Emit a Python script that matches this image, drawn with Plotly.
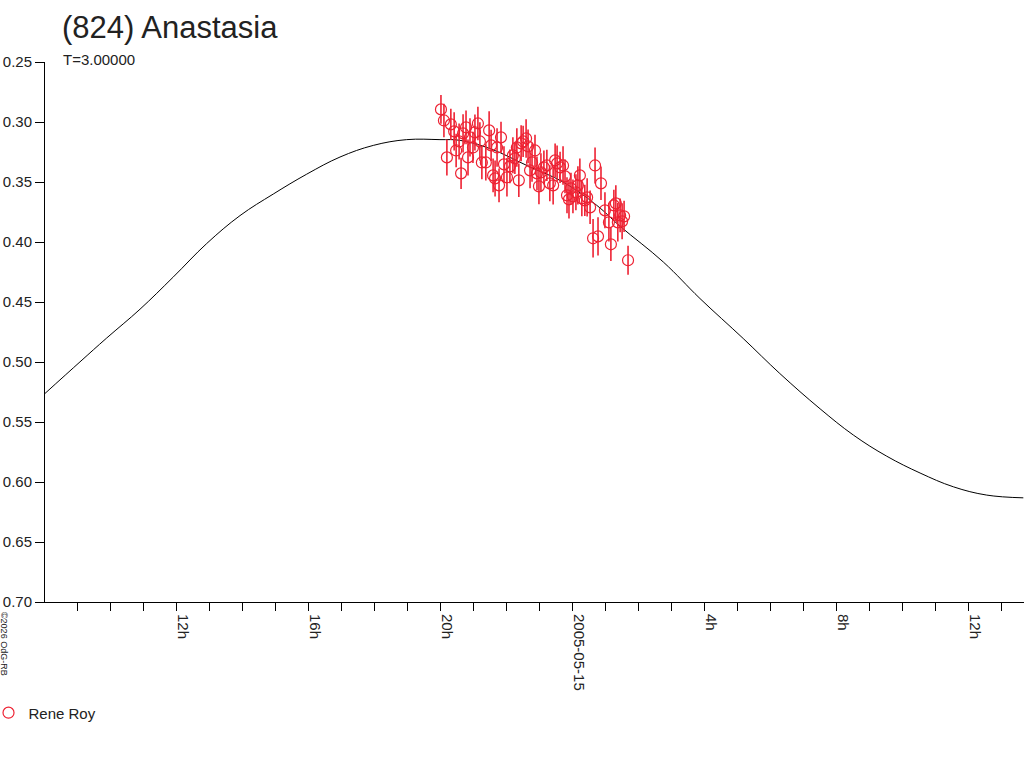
import plotly.graph_objects as go

# Model lightcurve (hours since 2005-05-14 00:00, magnitude)
curve_hours = [8.02, 9.08, 9.89, 10.90, 11.91, 12.92, 13.93, 14.94, 15.95, 16.96,
               17.97, 18.98, 19.99, 20.60, 21.51, 22.72, 23.72, 24.74, 25.45, 26.76,
               27.87, 29.18, 30.29, 31.51, 32.52, 33.53, 34.54, 35.55, 36.56, 37.67]
curve_mag = [0.5262, 0.4999, 0.4800, 0.4560, 0.4291, 0.4013, 0.3780, 0.3600, 0.3435, 0.3292,
             0.3195, 0.3147, 0.3147, 0.3153, 0.3222, 0.3375, 0.3500, 0.3694, 0.3869, 0.4167,
             0.4471, 0.4804, 0.5096, 0.5390, 0.5609, 0.5785, 0.5925, 0.6040, 0.6109, 0.6132]

# Observations (Rene Roy)
obs_hours = [20.02, 20.11, 20.20, 20.32, 20.42, 20.48, 20.57, 20.63, 20.69, 20.78,
             20.84, 20.90, 20.99, 21.05, 21.14, 21.20, 21.26, 21.38, 21.48, 21.54,
             21.60, 21.66, 21.72, 21.78, 21.84, 21.93, 22.02, 22.11, 22.20, 22.26,
             22.32, 22.38, 22.45, 22.51, 22.60, 22.66, 22.72, 22.78, 22.87, 22.93,
             22.99, 23.05, 23.14, 23.23, 23.32, 23.42, 23.48, 23.54, 23.63, 23.72,
             23.78, 23.84, 23.90, 23.96, 24.02, 24.11, 24.17, 24.23, 24.29, 24.38,
             24.45, 24.54, 24.63, 24.69, 24.78, 24.87, 24.99, 25.11, 25.17, 25.26,
             25.32, 25.38, 25.45, 25.51, 25.57, 25.69]
obs_mag = [0.2895, 0.2987, 0.3295, 0.3020, 0.3078, 0.3237, 0.3162, 0.3428, 0.3095, 0.3045,
           0.3295, 0.3128, 0.3212, 0.3087, 0.3012, 0.3162, 0.3337, 0.3337, 0.3070, 0.3195,
           0.3445, 0.3470, 0.3212, 0.3528, 0.3128, 0.3353, 0.3461, 0.3370, 0.3278, 0.3303,
           0.3212, 0.3486, 0.3178, 0.3162, 0.3137, 0.3203, 0.3403, 0.3337, 0.3237, 0.3428,
           0.3536, 0.3420, 0.3378, 0.3362, 0.3511, 0.3528, 0.3320, 0.3345, 0.3378, 0.3362,
           0.3453, 0.3611, 0.3645, 0.3553, 0.3620, 0.3586, 0.3528, 0.3445, 0.3636, 0.3653,
           0.3628, 0.3711, 0.3969, 0.3362, 0.3953, 0.3511, 0.3736, 0.3836, 0.4019, 0.3695,
           0.3678, 0.3836, 0.3778, 0.3828, 0.3786, 0.4152]
obs_err = [0.012, 0.014, 0.015, 0.013, 0.016, 0.014, 0.015, 0.013, 0.016, 0.014,
           0.015, 0.016, 0.013, 0.015, 0.014, 0.016, 0.014, 0.015, 0.016, 0.013,
           0.014, 0.015, 0.016, 0.014, 0.013, 0.015, 0.016, 0.014, 0.015, 0.013,
           0.016, 0.014, 0.015, 0.013, 0.016, 0.014, 0.015, 0.016, 0.013, 0.014,
           0.015, 0.016, 0.014, 0.013, 0.015, 0.016, 0.014, 0.015, 0.013, 0.016,
           0.014, 0.015, 0.016, 0.013, 0.014, 0.015, 0.016, 0.014, 0.015, 0.013,
           0.016, 0.014, 0.016, 0.015, 0.016, 0.014, 0.015, 0.016, 0.014, 0.013,
           0.015, 0.016, 0.014, 0.015, 0.013, 0.012]

x_tickvals = [12, 16, 20, 24, 28, 32, 36]
x_ticktext = ["12h", "16h", "20h", "2005-05-15", "4h", "8h", "12h"]
y_tickvals = [0.25, 0.30, 0.35, 0.40, 0.45, 0.50, 0.55, 0.60, 0.65, 0.70]
y_ticktext = ["0.25", "0.30", "0.35", "0.40", "0.45", "0.50", "0.55", "0.60", "0.65", "0.70"]

title_text = "(824) Anastasia"
subtitle_text = "T=3.00000"
copyright_text = "©2026 OdG-RB"
observer = "Rene Roy"

FONT = "Liberation Sans, Arial, sans-serif"
RED = "#ee2233"

fig = go.Figure()
fig.add_trace(go.Scatter(
    x=curve_hours, y=curve_mag, mode="lines",
    line=dict(color="black", width=1, shape="spline", smoothing=1.1),
    showlegend=False, hoverinfo="skip"))
fig.add_trace(go.Scatter(
    x=obs_hours, y=obs_mag, mode="markers", name=observer,
    marker=dict(symbol="circle-open", size=11, color=RED, line=dict(width=1.2, color=RED)),
    error_y=dict(type="data", array=obs_err, visible=True, color=RED, thickness=1.6, width=0)))

fig.update_layout(
    width=1024, height=768, autosize=False,
    paper_bgcolor="white", plot_bgcolor="white",
    margin=dict(l=45, r=0, t=61.5, b=166, autoexpand=False),
    font=dict(family=FONT, size=15, color="#222222"),
    showlegend=True,
    legend=dict(x=-0.0577, y=-0.2054, xanchor="left", yanchor="middle",
                font=dict(family=FONT, size=15, color="#222222"), bgcolor="rgba(0,0,0,0)"),
    xaxis=dict(range=[8.02, 37.69], automargin=False, showgrid=False, zeroline=False,
               showline=True, linecolor="black", linewidth=1, ticks="outside", ticklen=8,
               tickcolor="black", tickmode="array", tickvals=x_tickvals, ticktext=x_ticktext,
               tickangle=90, ticklabelshift=7,
               tickfont=dict(family=FONT, size=15, color="#222222"),
               minor=dict(tickmode="linear", tick0=0, dtick=1, ticks="outside", ticklen=8,
                          tickcolor="black", showgrid=False)),
    yaxis=dict(range=[0.70, 0.25], automargin=False, showgrid=False, zeroline=False,
               showline=True, linecolor="black", linewidth=1, ticks="outside", ticklen=9,
               tickcolor="black", tickmode="array", tickvals=y_tickvals, ticktext=y_ticktext,
               tickfont=dict(family=FONT, size=15, color="#222222")),
    annotations=[
        dict(text=title_text, xref="paper", yref="paper", x=0.0153, y=1.10,
             xanchor="left", yanchor="top", showarrow=False,
             font=dict(family=FONT, size=31, color="#222222")),
        dict(text=subtitle_text, xref="paper", yref="paper", x=0.0164, y=1.025,
             xanchor="left", yanchor="top", showarrow=False,
             font=dict(family=FONT, size=15, color="#222222")),
        dict(text=copyright_text, xref="paper", yref="paper", x=-0.0419, y=-0.0777,
             xanchor="center", yanchor="middle", showarrow=False, textangle=90,
             font=dict(family=FONT, size=9, color="#222222")),
    ],
)

fig.write_html(
    "out.html",
    config={"displayModeBar": False},
    post_script="document.body.style.margin='0';document.body.style.overflow='hidden';",
)
